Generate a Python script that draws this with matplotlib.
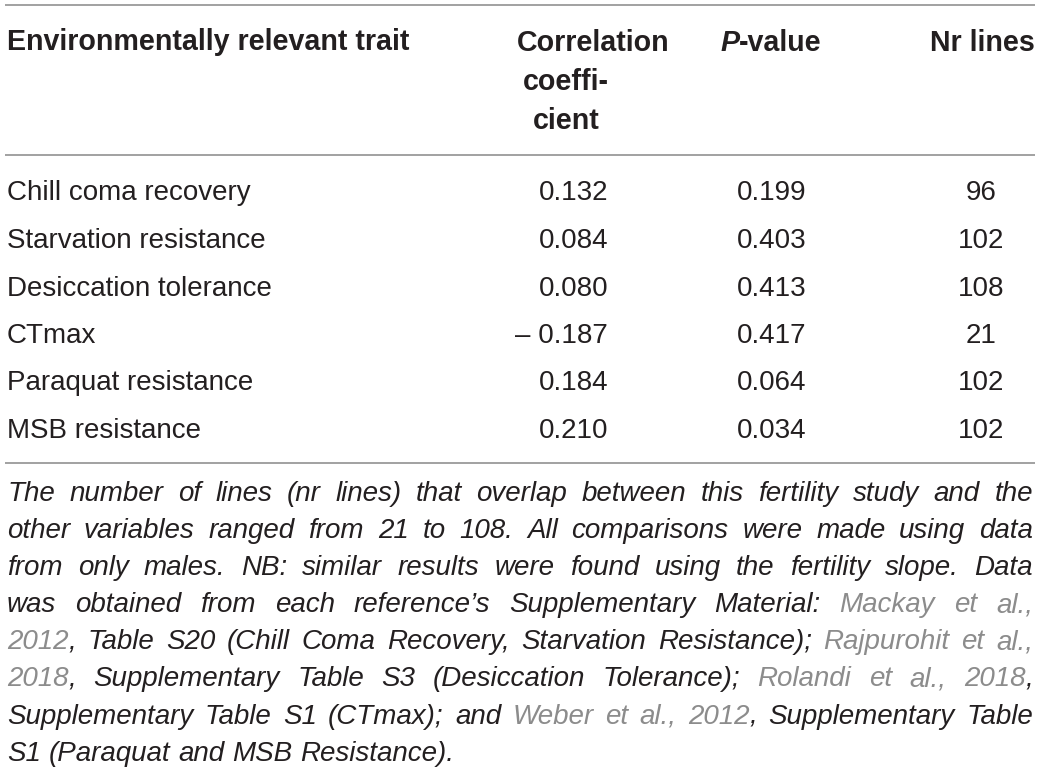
import matplotlib
matplotlib.use("Agg")
import matplotlib.pyplot as plt
import re

# ---------------- data ----------------
col_headers = ["Environmentally relevant trait", "Correlation coeffi- cient", "P-value", "Nr lines"]
traits = ["Chill coma recovery", "Starvation resistance", "Desiccation tolerance",
          "CTmax", "Paraquat resistance", "MSB resistance"]
corr = [0.132, 0.084, 0.080, -0.187, 0.184, 0.210]
pvals = [0.199, 0.403, 0.413, 0.417, 0.064, 0.034]
nlines = [96, 102, 108, 21, 102, 102]

# footnote lines (text in {} is a grey reference link)
footnote = [
    "The number of lines (nr lines) that overlap between this fertility study and the",
    "other variables ranged from 21 to 108. All comparisons were made using data",
    "from only males. NB: similar results were found using the fertility slope. Data",
    "was obtained from each reference\u2019s Supplementary Material: {Mackay} {et} {al.,}",
    "{2012}, Table S20 (Chill Coma Recovery, Starvation Resistance); {Rajpurohit} {et} {al.,}",
    "{2018}, Supplementary Table S3 (Desiccation Tolerance); {Rolandi} {et} {al.,} {2018},",
    "Supplementary Table S1 (CTmax); and {Weber} {et} {al.,} {2012}, Supplementary Table",
    "S1 (Paraquat and MSB Resistance).",
]

# ---------------- style ----------------
W, H = 1040, 773
FONT = "Liberation Sans"
TXT = "#231f20"
LINK = "#8c8c8c"
RULE = "#9a9a9a"
FS = 20
FS_H = 20.6

fig = plt.figure(figsize=(W / 100, H / 100), dpi=100)
ax = fig.add_axes([0, 0, 1, 1])
ax.set_xlim(0, W)
ax.set_ylim(H, 0)
ax.axis("off")
renderer = fig.canvas.get_renderer()


def width(s, **kw):
    t = ax.text(0, 0, s, fontfamily=FONT, **kw)
    w = t.get_window_extent(renderer).width
    t.remove()
    return w


def txt(x, y, s, **kw):
    kw.setdefault("fontfamily", FONT)
    kw.setdefault("color", TXT)
    kw.setdefault("va", "baseline")
    return ax.text(x, y, s, **kw)


# rules
x0, x1 = 5, 1035
for yy in (5, 155, 463):
    ax.plot([x0, x1], [yy, yy], color=RULE, lw=1.3, solid_capstyle="butt")

# header
hb = 51
txt(7, hb - 1, col_headers[0], fontsize=FS_H, fontweight="bold")
hparts = col_headers[1].split(" ")
txt(517, hb, hparts[0], fontsize=FS_H, fontweight="bold")
txt(566, hb + 39, hparts[1], fontsize=FS_H, fontweight="bold", ha="center")
txt(566, hb + 78, hparts[2], fontsize=FS_H, fontweight="bold", ha="center")
# P-value with italic P
p_head, rest_head = col_headers[2][0], col_headers[2][1:]
wp = width(p_head, fontsize=FS_H, fontweight="bold", fontstyle="italic")
wr = width(rest_head, fontsize=FS_H, fontweight="bold")
px = 771 - (wp + wr) / 2
txt(px, hb, p_head, fontsize=FS_H, fontweight="bold", fontstyle="italic")
txt(px + wp, hb, rest_head, fontsize=FS_H, fontweight="bold")
txt(982, hb, col_headers[3], fontsize=FS_H, fontweight="bold", ha="center")

# body rows
row0, dy = 200.5, 47.5
for i, (t, c, p, n) in enumerate(zip(traits, corr, pvals, nlines)):
    y = row0 + i * dy
    txt(7, y, t, fontsize=FS)
    cs = f"{c:.3f}" if c >= 0 else f"\u2013 {abs(c):.3f}"
    txt(608, y, cs, fontsize=FS, ha="right")
    txt(771.5, y, f"{p:.3f}", fontsize=FS, ha="center")
    txt(981.5, y, str(n), fontsize=FS, ha="center")

# footnote (justified, italic)
fl, fr = 7, 1033
fy0, fdy = 501, 37.1


def parse_word(w):
    segs = []
    for m in re.finditer(r"\{([^}]*)\}|([^{}]+)", w):
        if m.group(1) is not None:
            segs.append((m.group(1), LINK))
        else:
            segs.append((m.group(2), TXT))
    return segs


for li, line in enumerate(footnote):
    y = fy0 + li * fdy
    words = [parse_word(w) for w in line.split(" ")]
    wsegs = [[(s, col, width(s, fontsize=FS, fontstyle="italic")) for s, col in wd] for wd in words]
    wwidths = [sum(x[2] for x in wd) for wd in wsegs]
    last = li == len(footnote) - 1
    if last or len(words) == 1:
        gap = width(" ", fontsize=FS, fontstyle="italic") * 1.0
        gap = max(gap, 6.5)
    else:
        gap = (fr - fl - sum(wwidths)) / (len(words) - 1)
    x = fl
    for wd, ww in zip(wsegs, wwidths):
        xx = x
        for s, col, sw in wd:
            txt(xx, y, s, fontsize=FS, fontstyle="italic", color=col)
            xx += sw
        x += ww + gap

fig.savefig("out.png", dpi=100)
